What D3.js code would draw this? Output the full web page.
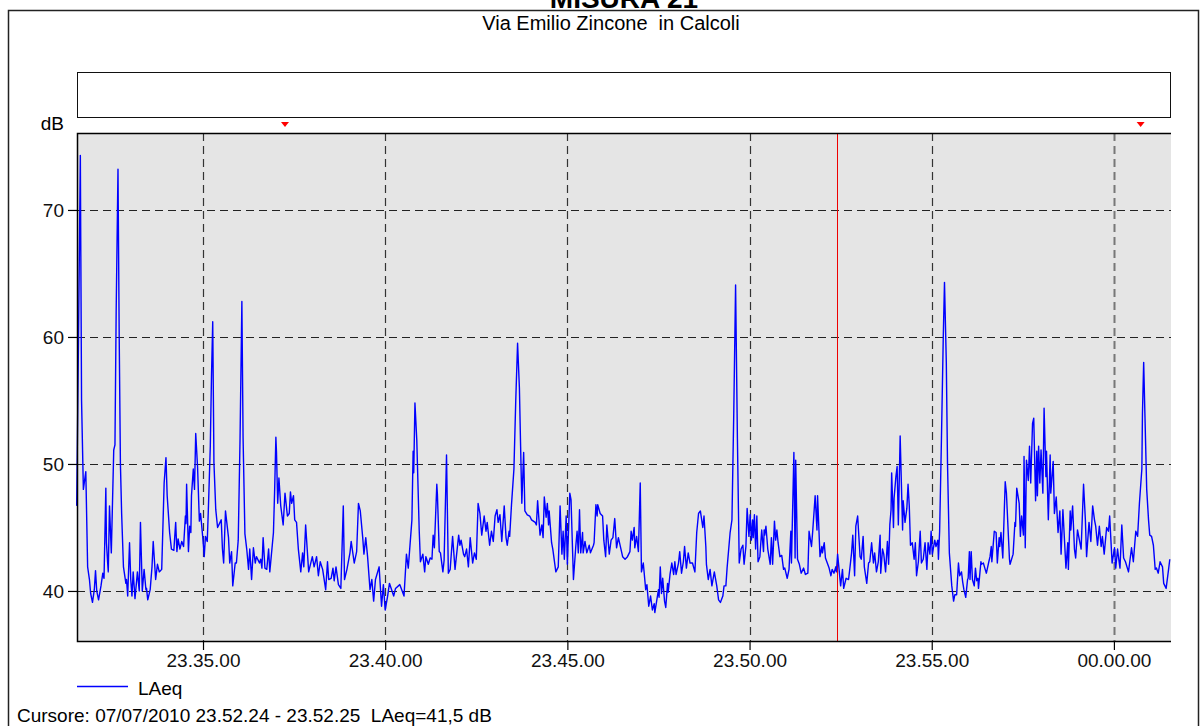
<!DOCTYPE html>
<html>
<head>
<meta charset="utf-8">
<script src="https://cdn.jsdelivr.net/npm/d3@7"></script>
<style>
  body { margin: 0; background: #fff; }
  svg { display: block; font-family: "Liberation Sans", Arial, sans-serif; }
  text { white-space: pre; }
</style>
</head>
<body>
<svg id="chart" width="1202" height="726"></svg>
<script>
// measurement start (23.31.32) and LAeq readings as [seconds from start, dB]
const startTime = new Date(2010, 6, 7, 23, 31, 32);
const endSec = 1802;

const readingsA = [[0,46.7],[3,60],[6,74.3],[8,55],[11,48.0],[15,49.4],[18,41.9],[21,40.9],[23,39.8],[26,39.1],
  [29,40.1],[31,41.6],[33,40.0],[36,39.3],[40,40.4],[43,41.4],[45,41.0],[48,48.1],[49,43.8],[51,42.2],
  [52,41.5],[54,46.7],[57,43.0],[61,51.1],[63,51.5],[65,62],[68,73.2],[70,60],[72,50],[74,46.1],
  [77,41.9],[81,40.6],[82,40.9],[84,39.6],[87,43.8],[89,40.9],[91,39.6],[93,41.5],[96,39.4],[100,41.5],
  [103,40.0],[105,45.4],[108,40.0],[111,41.7],[114,40.1],[115,40.2],[117,39.3],[121,40.1],[124,41.9],[126,43.9],
  [130,40.9],[133,42.1],[136,41.5],[140,41.7],[144,48.5],[147,50.5],[149,47.5],[153,44.6],[156,43.3],[160,43.2],
  [163,45.4],[165,43.1],[167,44.1],[170,43.3],[173,43.9],[176,43.5],[179,45.9],[180,45.3],[181,48.4],[184,43.1],
  [186,45.1],[188,44.6],[189,47.5],[192,49.6],[194,48.0],[196,52.4],[199,49.8],[202,45.5],[204,46.1],[208,44.0],
  [210,42.7],[212,44.3],[215,43.9],[217,46.7],[220,51.4],[222,57],[224,61.2],[226,50.1],[229,46.4],[232,45.0],
  [238,45.6],[240,43.3],[242,42.2],[245,46.3],[250,44.2],[252,42.2],[255,43.1],[257,40.4],[261,42.2],[263,42.2],
  [266,44.0],[269,52],[272,62.8],[274,52],[277,44.5],[280,43.3],[283,41.7],[285,43.3],[288,40.9],[291,43.4],
  [294,42.2],[296,42.7],[301,42.2],[303,42.5],[305,41.8],[307,44.2],[310,41.8],[313,41.7],[316,43.3],[318,41.5],
  [324,44.6],[326,48.0],[328,52.1],[329,50.9],[331,46.9],[333,48.9],[336,46.7],[340,45.2],[343,47.7],[347,45.9],
  [350,46.1],[352,47.8],[354,46.9],[357,47.5],[359,45.6]];

const readingsB = [[362,45.4],[365,43.3],[369,41.5],[372,43.0],[374,41.9],[377,45.2],[382,41.5],[388,42.7],[391,41.9],[395,42.7],
  [398,41.2],[401,42.3],[405,41.7],[410,40.1],[413,42.3],[415,40.9],[419,41.0],[422,41.8],[424,40.8],[427,41.9],
  [431,40.5],[435,40.2],[439,46.7],[441,40.9],[445,41.7],[450,43.0],[452,43.9],[457,42.2],[461,43.1],[464,46.9],
  [467,46.3],[471,44.2],[473,42.9],[476,44.2],[479,42.7],[483,40.1],[486,40.9],[489,39.2],[492,40.9],[498,41.9],
  [502,38.8],[505,40.5],[508,38.5],[512,39.6],[515,40.6],[522,39.6],[525,40.2],[532,40.5],[539,39.6],[543,42.9],
  [546,41.8],[552,45.6],[554,51.0],[555,49.3],[557,54.8],[560,51.9],[564,44.8],[566,42.3],[570,42.9],[573,41.5],
  [575,42.7],[579,42.1],[582,42.6],[585,42.5],[587,44.4],[589,43.4],[593,48.4],[594,47.6],[597,43.1],[599,43.0],
  [603,41.5],[605,42.4],[609,50.7],[612,41.4],[615,41.7],[619,44.3],[623,41.7],[629,44.4],[631,43.6],[633,44.0],
  [637,42.9],[639,42.7],[642,43.3],[645,41.9],[648,44.2],[652,42.2],[655,43.0],[658,42.5],[661,46.9],[664,46.1],
  [667,44.4],[671,45.9],[674,44.7],[676,45.4],[680,43.6],[683,44.7],[686,43.9],[689,45.9],[692,46.4],[694,45.4],
  [697,46.0],[700,43.9],[704,46.7],[707,44.2],[709,43.6],[712,44.7],[713,44.3],[716,46.8],[720,49.6],[723,55.0],
  [726,59.5]];

const readingsC = [[729,56],[731,51.4],[733,46.9],[736,50.9],[738,46.3],[742,46.0],[746,45.9],[749,45.6],[755,45.4],[757,45.2],
  [759,47.1],[763,44.4],[766,45.2],[768,44.2],[770,47.4],[773,45.8],[775,46.9],[777,45.2],[778,46.3],[782,43.8],
  [784,43.3],[789,41.5],[793,41.9],[796,46.7],[799,42.9],[801,44.7],[803,42.5],[806,45.9],[808,42.1],[812,47.7],
  [814,47.2],[818,40.9],[822,43.6],[824,44.7],[826,43.0],[828,46.4],[830,43.0],[833,44.6],[834,43.0],[837,43.9],
  [840,43.0],[844,43.6],[846,43.0],[851,43.6],[852,43.8],[855,46.8],[857,45.9],[858,46.8],[862,46.1],[866,45.9],
  [868,44.0],[871,42.7],[873,45.2],[877,42.9],[880,44.0],[883,44.2],[886,45.7],[889,43.4],[892,44.2],[899,42.7],
  [903,42.5],[907,42.7],[911,43.1],[913,44.7],[915,44.0],[918,45.0],[919,43.4],[922,44.3],[925,43.1],[928,48.5],
  [930,41.5],[933,42.2],[937,40.1],[939,40.5],[942,38.8],[945,39.6],[948,38.5],[951,39.0],[952,38.3],[955,39.2],
  [958,40.1],[959,39.5],[961,41.9],[963,39.8],[965,41.0],[968,39.2],[970,38.7],[973,40.6],[974,39.9],[977,41.3],
  [980,42.2],[983,41.3],[985,42.3],[987,41.3],[991,42.2],[993,43.1],[996,41.4],[999,42.3],[1001,43.5],[1004,41.8],
  [1007,43.0],[1010,42.2],[1014,42.2],[1018,41.5],[1021,44.6],[1024,46.1],[1027,46.3],[1031,45.0],[1033,45.9],[1036,43.5],
  [1037,42.1],[1040,40.9],[1043,41.7],[1046,40.4],[1050,41.5],[1054,40.4],[1057,39.3],[1060,39.1],[1064,39.6],[1066,40.4],
  [1069,40.4],[1071,41.8],[1076,44.6],[1079,45.6],[1082,54],[1085,64.1],[1088,52],[1091,42.2]];

const readingsD = [[1094,43.3],[1097,43.6],[1099,42.1],[1102,43.5],[1104,46.5],[1107,44.3],[1109,46.0],[1111,44.0],[1113,45.6],[1114,44.2],
  [1116,46.0],[1118,43.3],[1120,45.9],[1122,42.3],[1125,42.7],[1128,44.8],[1131,43.1],[1132,44.8],[1133,44.4],[1135,45.1],
  [1138,43.3],[1142,42.1],[1144,44.2],[1146,42.1],[1149,45.5],[1151,44.0],[1153,44.8],[1155,43.8],[1158,42.7],[1161,42.8],
  [1164,41.7],[1166,41.8],[1170,41.0],[1173,41.7],[1176,44.7],[1177,42.2],[1181,50.9],[1183,42.6],[1184,50.3],[1187,42.5],
  [1190,42.1],[1193,41.4],[1197,41.8],[1200,41.3],[1204,41.4],[1206,44.7],[1210,43.5],[1212,44.7],[1216,47.5],[1219,44.8],
  [1220,47.5],[1224,42.7],[1227,43.5],[1228,43.0],[1231,43.8],[1233,42.6],[1236,42.2],[1239,41.8],[1242,41.2],[1244,41.7],
  [1247,41.4],[1250,41.9],[1251,41.5],[1253,42.9],[1258,40.4],[1261,41.7],[1263,40.2],[1267,41.0],[1271,40.9],[1273,41.7],
  [1276,43.0],[1278,44.4],[1281,41.2],[1283,45.1],[1286,45.9],[1290,42.7],[1292,42.5],[1295,44.3],[1297,41.9],[1301,40.6],
  [1304,42.2],[1306,42.3],[1309,43.8],[1312,42.2],[1314,43.0],[1317,41.5],[1320,42.3],[1323,44.4],[1324,41.4],[1327,43.3],
  [1329,42.9],[1332,41.5],[1335,43.9],[1337,42.1],[1339,45.2],[1341,46.4],[1342,49.3],[1345,45.0],[1346,47.3],[1349,49.0],
  [1351,49.8],[1353,45.2],[1356,52.2],[1360,44.8],[1361,47.1],[1364,45.4],[1367,46.5],[1369,48.4],[1371,46.7],[1373,43.6],
  [1376,43.8],[1379,42.5],[1381,43.8],[1383,41.2],[1386,42.3],[1389,44.7],[1391,42.2],[1394,42.5],[1397,43.8],[1400,41.7],
  [1402,43.8],[1405,42.9],[1407,44.7],[1409,42.9],[1413,44.0],[1415,43.5],[1418,44.0],[1419,42.5],[1421,44.7],[1424,52],
  [1427,60],[1429,64.3],[1432,58],[1434,50],[1437,43],[1441,40.4],[1444,39.2],[1446,39.7]];

const readingsE = [[1449,39.7],[1452,42.2],[1454,41.2],[1457,41.5],[1459,40.7],[1461,40.1],[1464,39.5],[1467,40.9],[1468,41.0],[1470,43.1],
  [1471,40.9],[1473,43.1],[1475,40.9],[1478,40.4],[1480,41.8],[1482,40.8],[1484,41.0],[1485,40.2],[1489,42.3],[1490,42.1],
  [1493,42.2],[1496,41.7],[1498,41.4],[1502,42.3],[1504,42.7],[1506,43.5],[1507,42.3],[1511,44.7],[1514,44.6],[1516,42.2],
  [1519,44.2],[1520,43.5],[1522,44.6],[1525,42.6],[1529,48.6],[1531,47.7],[1536,42.5],[1537,42.1],[1542,42.9],[1545,45.4],
  [1546,45.1],[1548,48.1],[1552,46.9],[1554,44.3],[1556,45.9],[1559,44.4],[1560,50.6],[1562,43.4],[1564,50.3],[1567,48.7],
  [1569,51.4],[1571,48.5],[1574,53.2],[1576,53.6],[1579,47.1],[1581,51.0],[1582,47.5],[1584,51.4],[1586,48.5],[1588,51.1],
  [1591,47.7],[1593,54.4],[1596,49.0],[1597,51.0],[1600,45.6],[1603,50.7],[1604,47.7],[1608,50.2],[1610,46.1],[1613,47.4],
  [1616,44.6],[1619,46.3],[1621,42.9],[1624,46.4],[1629,41.8],[1632,43.8],[1633,41.7],[1636,46.3],[1637,44.8],[1640,46.7],
  [1643,43.3],[1645,42.6],[1648,44.8],[1654,43.3],[1658,48.4],[1661,45.6],[1663,42.7],[1667,45.4],[1670,43.9],[1673,46.7],
  [1676,45.6],[1678,45.1],[1681,43.6],[1684,45.1],[1687,43.5],[1689,44.3],[1692,42.9],[1696,45.0],[1699,44.7],[1701,45.9],
  [1705,42.2],[1709,43.4],[1711,41.8],[1714,43.3],[1716,42.5],[1718,41.8],[1721,45.2],[1724,42.6],[1727,42.3],[1732,41.5],
  [1737,43.4],[1740,42.3],[1744,44.7],[1747,44.3],[1750,46.9],[1754,49.6],[1755,54],[1757,58.0],[1759,54],[1762,48],
  [1765,45.6],[1767,44.4],[1770,44.3],[1773,43.6],[1776,41.7],[1778,41.8],[1781,41.4],[1784,42.3],[1788,41.9],[1790,40.6],
  [1794,40.2],[1798,41.7],[1800,42.5]];

const yTicks = [40, 50, 60, 70];
const markerSec = [343, 1752];      // red markers above the plot
const cursorSec = 1252.5;           // 23.52.24 - 23.52.25
const chartTitle = "MISURA 21";
const chartSubtitle = "Via Emilio Zincone  in Calcoli";
const seriesName = "LAeq";
const cursorText = "Cursore: 07/07/2010 23.52.24 - 23.52.25  LAeq=41,5 dB";

const readings = [...readingsA, ...readingsB, ...readingsC, ...readingsD, ...readingsE];
const toDate = s => new Date(startTime.getTime() + s * 1000);

const plot = { left: 77, right: 1171, top: 133, bottom: 641 };
const labelSize = 19;

const svg = d3.select("#chart");

const x = d3.scaleTime()
    .domain([toDate(0.5), toDate(endSec)])
    .range([plot.left, plot.right]);

const y = d3.scaleLinear()
    .domain([36.06, 76.06])
    .range([plot.bottom, plot.top]);

// outer frame (runs off the bottom of the page)
svg.append("rect")
    .attr("x", 8.5).attr("y", 10.5)
    .attr("width", 1190).attr("height", 800)
    .attr("fill", "none")
    .attr("stroke", "#222")
    .attr("stroke-width", 1.5);

// titles (the main title sits mostly above the page, as in the export)
svg.append("text")
    .attr("x", 624).attr("y", 8)
    .attr("text-anchor", "middle")
    .attr("font-size", 28).attr("font-weight", "bold")
    .text(chartTitle);

svg.append("text")
    .attr("x", 611).attr("y", 30)
    .attr("text-anchor", "middle")
    .attr("font-size", 20)
    .text(chartSubtitle);

// empty event box
svg.append("rect")
    .attr("x", 77.5).attr("y", 72.5)
    .attr("width", 1093).attr("height", 45)
    .attr("fill", "#fff")
    .attr("stroke", "#111")
    .attr("stroke-width", 1);

// plot background
svg.append("rect")
    .attr("x", plot.left).attr("y", plot.top)
    .attr("width", plot.right - plot.left)
    .attr("height", plot.bottom - plot.top)
    .attr("fill", "#e5e5e5");

// grid
const xTicks = x.ticks(d3.timeMinute.every(5));
svg.append("g")
    .selectAll("line")
    .data(xTicks)
    .join("line")
    .attr("x1", d => Math.round(x(d)) + 0.5)
    .attr("x2", d => Math.round(x(d)) + 0.5)
    .attr("y1", plot.top)
    .attr("y2", plot.bottom)
    .attr("stroke", d => d.getHours() === 0 ? "#777" : "#333")
    .attr("stroke-width", d => d.getHours() === 0 ? 2 : 1.2)
    .attr("stroke-dasharray", "8,5");

svg.append("g")
    .selectAll("line")
    .data(yTicks)
    .join("line")
    .attr("x1", plot.left)
    .attr("x2", plot.right)
    .attr("y1", d => Math.round(y(d)) + 0.5)
    .attr("y2", d => Math.round(y(d)) + 0.5)
    .attr("stroke", "#222")
    .attr("stroke-width", 1.2)
    .attr("stroke-dasharray", "8,5");

// cursor
svg.append("line")
    .attr("x1", Math.round(x(toDate(cursorSec))) + 0.5)
    .attr("x2", Math.round(x(toDate(cursorSec))) + 0.5)
    .attr("y1", plot.top).attr("y2", plot.bottom)
    .attr("stroke", "#ee0000")
    .attr("stroke-width", 1);

// LAeq line
const line = d3.line()
    .x(d => x(toDate(d[0])))
    .y(d => y(d[1]));

svg.append("path")
    .datum(readings)
    .attr("fill", "none")
    .attr("stroke", "#0000ff")
    .attr("stroke-width", 1.4)
    .attr("stroke-linejoin", "round")
    .attr("d", line);

// plot border: left, top, bottom
svg.append("path")
    .attr("d", `M${plot.right},${plot.top + 0.5}H${plot.left + 0.5}V${plot.bottom + 0.5}H${plot.right}`)
    .attr("fill", "none")
    .attr("stroke", "#000")
    .attr("stroke-width", 1.5);

// axes
const xAxis = svg.append("g")
    .attr("transform", `translate(0,${plot.bottom})`)
    .call(d3.axisBottom(x)
        .ticks(d3.timeMinute.every(5))
        .tickFormat(d3.timeFormat("%H.%M.%S"))
        .tickSize(9)
        .tickPadding(4));
xAxis.select(".domain").remove();
xAxis.selectAll("line").attr("stroke", "#000").attr("stroke-width", 1.2);
xAxis.selectAll("text")
    .attr("font-size", labelSize)
    .attr("font-family", "Liberation Sans, Arial, sans-serif")
    .attr("fill", "#111");

const yAxis = svg.append("g")
    .attr("transform", `translate(${plot.left},0)`)
    .call(d3.axisLeft(y)
        .tickValues(yTicks)
        .tickSize(9)
        .tickPadding(4));
yAxis.select(".domain").remove();
yAxis.selectAll("line").attr("stroke", "#000").attr("stroke-width", 1.2);
yAxis.selectAll("text")
    .attr("font-size", labelSize)
    .attr("font-family", "Liberation Sans, Arial, sans-serif")
    .attr("fill", "#111");

svg.append("text")
    .attr("x", 64).attr("y", 130)
    .attr("text-anchor", "end")
    .attr("font-size", labelSize)
    .text("dB");

// red markers
svg.append("g")
    .selectAll("path")
    .data(markerSec)
    .join("path")
    .attr("transform", d => `translate(${x(toDate(d))},124)`)
    .attr("d", "M-4,-2L4,-2L0,3Z")
    .attr("fill", "#ff0000");

// legend
svg.append("line")
    .attr("x1", 77).attr("x2", 128)
    .attr("y1", 686.5).attr("y2", 686.5)
    .attr("stroke", "#0000ff")
    .attr("stroke-width", 1.3);

svg.append("text")
    .attr("x", 138).attr("y", 695)
    .attr("font-size", labelSize)
    .text(seriesName);

svg.append("text")
    .attr("x", 17).attr("y", 722)
    .attr("font-size", labelSize)
    .text(cursorText);
</script>
</body>
</html>
